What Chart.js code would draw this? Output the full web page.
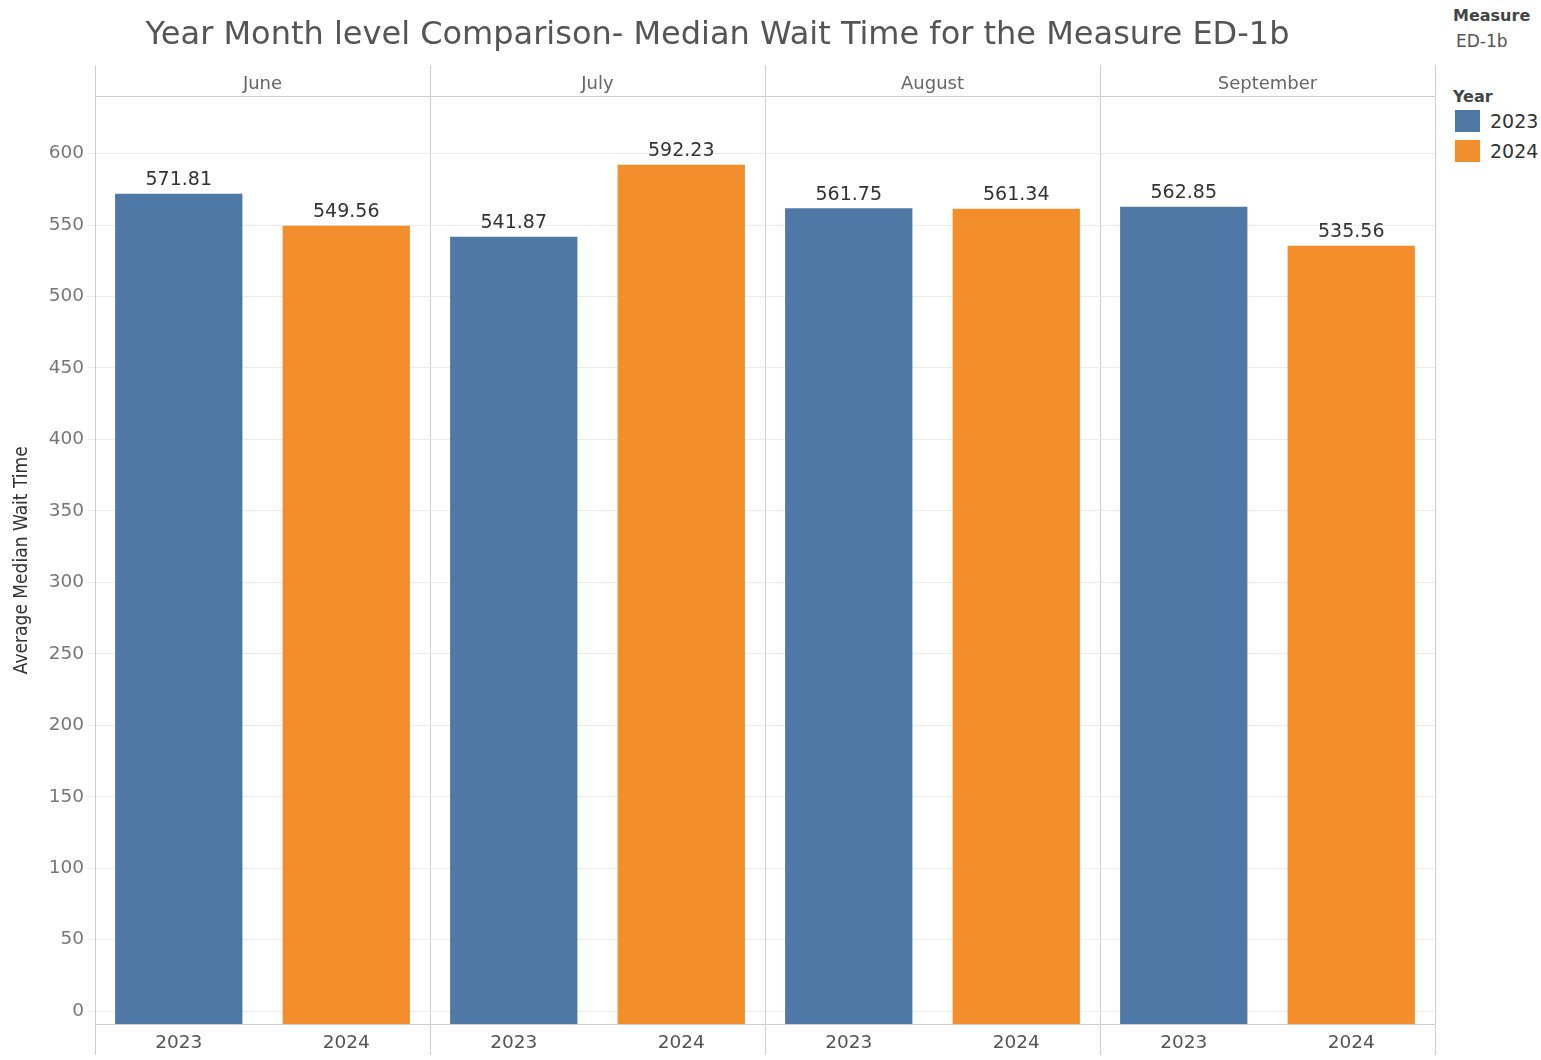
<!DOCTYPE html>
<html>
<head>
<meta charset="utf-8">
<script src="https://cdn.jsdelivr.net/npm/chart.js@4.4.1/dist/chart.umd.min.js"></script>
<style>
  body { margin: 0; background: #fff; font-family: "DejaVu Sans", sans-serif; }
  #wrap { position: absolute; left: 0; top: 0; width: 1436px; height: 1060px; }
  #legend { position: absolute; left: 1453px; top: 6px; color: #333; }
  .lg-head { font-size: 16px; font-weight: bold; color: #444; }
  .lg-sub { font-size: 17px; color: #555; margin: 6px 0 0 3px; }
  .lg-item { display: flex; align-items: center; height: 30px; font-size: 19px; color: #333; }
  .sw { width: 25px; height: 22px; margin: 0 10px 0 2px; }
</style>
</head>
<body>
<div id="wrap"><canvas id="chart" width="1436" height="1060"></canvas></div>
<div id="legend">
  <div class="lg-head">Measure</div>
  <div class="lg-sub">ED-1b</div>
  <div class="lg-head" style="margin-top:36px">Year</div>
  <div id="lg-items"></div>
</div>
<script>
// chart values
const months = ['June', 'July', 'August', 'September'];
const years = ['2023', '2024'];
const wait2023 = [571.81, 541.87, 561.75, 562.85];
const wait2024 = [549.56, 592.23, 561.34, 535.56];
const yearColors = ['#4e79a7', '#f28e2b'];
const yTicks = [0, 50, 100, 150, 200, 250, 300, 350, 400, 450, 500, 550, 600];

// one x category per (month, year) pair
const labels = [];
const d2023 = [];
const d2024 = [];
months.forEach((m, i) => {
    labels.push(years[0], years[1]);
    d2023.push(wait2023[i], null);
    d2024.push(null, wait2024[i]);
});

const yMin = -9;
const font = '"DejaVu Sans"';

// legend
const items = document.getElementById('lg-items');
years.forEach((y, i) => {
    items.innerHTML += '<div class="lg-item"><div class="sw" style="background:' + yearColors[i] + '"></div>' + y + '</div>';
});

const valueLabels = {
    id: 'valueLabels',
    afterDatasetsDraw(chart) {
        const ctx = chart.ctx;
        ctx.save();
        ctx.font = '19px ' + font;
        ctx.fillStyle = '#333';
        ctx.textAlign = 'center';
        ctx.textBaseline = 'bottom';
        chart.data.datasets.forEach((ds, di) => {
            chart.getDatasetMeta(di).data.forEach((bar, i) => {
                const v = ds.data[i];
                if (v == null) return;
                ctx.fillText(v.toFixed(2), bar.x, bar.y - 4);
            });
        });
        ctx.restore();
    }
};

new Chart(document.getElementById('chart'), {
    type: 'bar',
    data: {
        labels: labels,
        datasets: [
            { label: years[0], data: d2023, backgroundColor: yearColors[0], base: yMin },
            { label: years[1], data: d2024, backgroundColor: yearColors[1], base: yMin }
        ]
    },
    options: {
        responsive: false,
        animation: false,
        layout: { padding: { left: 0, right: 1, top: 0, bottom: 0 } },
        datasets: { bar: { grouped: false, barPercentage: 0.76, categoryPercentage: 1 } },
        plugins: {
            legend: { display: false },
            tooltip: { enabled: false },
            title: {
                display: true,
                text: 'Year Month level Comparison- Median Wait Time for the Measure ED-1b',
                color: '#555',
                font: { family: font, size: 32, weight: 'normal' },
                padding: { top: 16, bottom: 10 }
            }
        },
        scales: {
            x: {
                position: 'bottom',
                offset: true,
                grid: {
                    offset: true,
                    drawOnChartArea: false,
                    tickLength: 31,
                    color: c => (c.index === undefined || c.index % 2 === 0) ? '#cfcfcf' : 'rgba(0,0,0,0)'
                },
                border: { color: '#cfcfcf' },
                ticks: { color: '#555', font: { family: font, size: 18.5 }, padding: -23, maxRotation: 0 },
                afterFit: s => { s.height = 36; }
            },
            x2: {
                type: 'category',
                labels: months,
                position: 'top',
                offset: true,
                grid: { offset: true, tickLength: 31, color: '#cfcfcf' },
                border: { color: '#cfcfcf' },
                ticks: { color: '#666', font: { family: font, size: 18 }, padding: -30, maxRotation: 0 },
                afterFit: s => { s.height = 32; }
            },
            y: {
                type: 'linear',
                min: yMin,
                max: 640,
                afterBuildTicks: s => { s.ticks = yTicks.map(v => ({ value: v })); },
                ticks: { color: '#777', font: { family: font, size: 18.5 }, padding: 3 },
                grid: { color: '#ececec', tickLength: 8 },
                border: { color: '#cfcfcf' },
                title: {
                    display: true,
                    text: 'Average Median Wait Time',
                    color: '#333',
                    font: { family: '"DejaVu Sans Condensed", "Liberation Sans"', size: 19 },
                    padding: { top: 11, bottom: 0 }
                },
                afterFit: s => { s.width = 95; }
            }
        }
    },
    plugins: [valueLabels]
});
</script>
</body>
</html>
